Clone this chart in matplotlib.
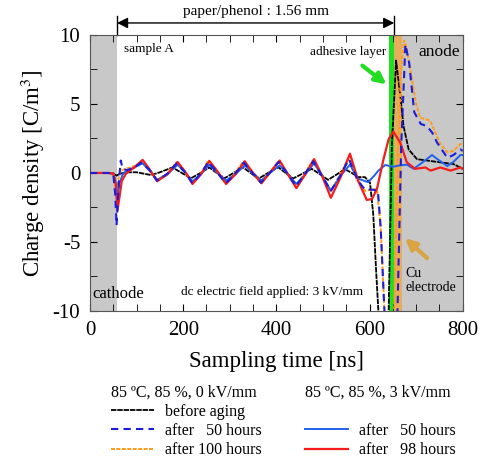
import matplotlib
matplotlib.use('Agg')
import matplotlib.pyplot as plt
from matplotlib.lines import Line2D
from matplotlib.ticker import MultipleLocator
import numpy as np

plt.rcParams['font.family'] = 'serif'
plt.rcParams['font.serif'] = ['Liberation Serif', 'DejaVu Serif']
plt.rcParams['mathtext.fontset'] = 'stix'
plt.rcParams['axes.unicode_minus'] = False

# regions along the time axis [ns]
cathode_end = 58
adhesive = (642, 653)
cu_electrode = (653, 670)
anode_start = 670

# 85 C, 85 %, 0 kV/mm : before aging
black_t = [0, 40, 52, 57, 64, 80, 100, 131, 150, 177, 197, 217, 237, 256, 272, 289, 308, 328, 345, 361,
           382, 404, 420, 436, 456, 476, 494, 511, 530, 547, 562, 575, 590, 601, 608, 614, 619, 625, 641,
           648, 657, 666, 673, 684, 702, 752, 780, 800]
black_q = [0, 0, -0.05, -0.2, -0.05, 0.05, 0.05, -0.15, 0.05, 0.4, 0.0, -0.38, 0.0, 0.4, 0.0, -0.38, 0.0,
           0.41, 0.0, -0.43, 0.0, 0.41, 0.0, -0.4, -0.05, 0.3, -0.1, -0.5, -0.1, 0.28, 0.0, -0.3, -0.3,
           -0.7, -3.0, -7.0, -10.0, -12.0, -10.0, 2.0, 8.15, 5.6, 3.4, 1.7, 1.0, 0.77, 0.65, 0.3]

# 85 C, 85 %, 0 kV/mm : after 50 hours
dblue_t = [0, 40, 50, 54, 57, 61, 66, 70, 80, 95, 110, 127, 144, 166, 186, 204, 220, 238, 254, 273, 291,
           311, 330, 349, 367, 387, 405, 425, 442, 461, 479, 498, 517, 537, 556, 574, 590, 605, 618, 624,
           632, 640, 655, 660, 668, 677, 685, 696, 710, 723, 735, 745, 757, 767, 780, 795, 800]
dblue_q = [0, 0, -0.1, -1.5, -3.8, -1.0, 0.9, 0.3, 0.2, 0.4, 0.75, 0.25, -0.55, -0.05, 0.7, 0.05, -0.75,
           -0.05, 0.8, 0.05, -0.75, -0.1, 0.75, 0.0, -0.7, 0.05, 0.8, -0.1, -0.95, -0.1, 0.85, -0.2,
           -1.3, -0.2, 1.0, -0.5, -1.2, -1.2, -1.3, -4.0, -10.0, -12.0, -12.0, -10.0, 2.0, 9.3, 8.0,
           4.4, 3.55, 3.4, 2.9, 2.2, 1.6, 1.1, 1.3, 1.7, 1.6]

# 85 C, 85 %, 0 kV/mm : after 100 hours
orange_t = [0, 40, 50, 54, 57, 61, 66, 77, 95, 110, 127, 144, 166, 185, 204, 220, 238, 253, 272, 290,
            310, 328, 348, 366, 386, 404, 424, 441, 460, 478, 498, 516, 536, 555, 573, 590, 605, 616,
            624, 632, 636, 652, 660, 667, 674, 680, 690, 700, 709, 730, 752, 767, 780, 795, 800]
orange_q = [0, 0, -0.05, -0.6, -1.4, -0.4, 0.17, 0.3, 0.5, 0.8, 0.3, -0.5, -0.05, 0.75, 0.05, -0.7,
            -0.05, 0.85, 0.05, -0.7, -0.1, 0.8, 0.0, -0.7, 0.05, 0.85, -0.1, -0.95, -0.1, 0.9, -0.2,
            -1.3, -0.2, 1.1, -0.5, -1.3, -1.2, -1.15, -4.0, -10.0, -12.0, -11.0, 0.0, 7.0, 9.6, 9.0,
            7.0, 5.0, 4.0, 3.8, 2.1, 1.5, 1.6, 2.1, 2.1]

# 85 C, 85 %, 3 kV/mm : after 50 hours
blue_t = [0, 40, 50, 55, 59, 63, 70, 80, 95, 113, 127, 144, 166, 188, 204, 220, 238, 256, 274, 292,
          312, 332, 350, 368, 388, 407, 425, 443, 462, 481, 498, 517, 538, 558, 575, 597, 610, 619,
          634, 650, 665, 680, 695, 715, 734, 750, 767, 780, 795, 800]
blue_q = [0, 0, -0.05, -0.6, -1.8, -0.8, -0.1, 0.2, 0.4, 0.7, 0.2, -0.5, -0.1, 0.6, 0.05, -0.6, -0.1,
          0.6, 0.0, -0.55, -0.1, 0.55, 0.0, -0.55, 0.05, 0.55, -0.1, -0.8, -0.1, 0.7, -0.2, -1.3,
          -0.2, 0.6, -0.4, -0.67, -0.2, 0.17, 0.58, 0.45, 0.55, 0.6, 0.3, 0.8, 1.3, 0.9, 0.5, 0.8,
          1.3, 1.3]

# 85 C, 85 %, 3 kV/mm : after 98 hours
red_t = [0, 20, 40, 50, 55, 59, 63, 68, 77, 95, 113, 127, 144, 166, 188, 204, 220, 238, 256, 274, 292,
         312, 332, 350, 368, 388, 407, 425, 443, 462, 481, 498, 517, 538, 558, 576, 594, 605, 616, 630,
         641, 651, 666, 680, 698, 720, 731, 752, 774, 795, 800]
red_q = [0, 0, 0, -0.05, -0.8, -2.7, -1.8, -0.6, -0.05, 0.4, 0.95, 0.3, -0.6, -0.1, 0.8, 0.1, -0.8,
         -0.1, 0.88, 0.1, -0.8, -0.1, 0.85, 0.0, -0.75, 0.1, 0.9, -0.1, -1.1, -0.1, 1.0, -0.2, -1.8,
         -0.3, 1.4, -0.6, -1.95, -1.9, -1.15, 1.0, 2.45, 3.0, 2.2, 0.77, 0.3, 0.4, 0.17, 0.4, 0.17,
         0.4, 0.3]

fig = plt.figure(figsize=(4.84, 4.57), dpi=100)
ax = fig.add_axes([0.186, 0.3195, 0.770, 0.604])

gray = '#c8c8c8'
ax.axvspan(0, cathode_end, color=gray, lw=0, zorder=0)
ax.axvspan(anode_start, 800, color=gray, lw=0, zorder=0)
ax.axvspan(*adhesive, color='#1ee01e', lw=0, zorder=0)
ax.axvspan(*cu_electrode, color='#e6ad5c', lw=0, zorder=0)

l_black, = ax.plot(black_t, black_q, c='black', lw=1.3, ls=(0, (3, 0.5)), zorder=3)
l_dblue, = ax.plot(dblue_t, dblue_q, c='#1c1cd9', lw=1.5, ls=(0, (3.5, 2.5)), zorder=4)
l_orange, = ax.plot(orange_t, orange_q, c='#ff9a1a', lw=1.4, ls=(0, (2, 0.8)), zorder=3)
l_blue, = ax.plot(blue_t, blue_q, c='#2060ee', lw=1.4, zorder=3)
l_red, = ax.plot(red_t, red_q, c='#f41c1c', lw=1.6, zorder=3)

ax.set_xlim(0, 800)
ax.set_ylim(-10, 10)
ax.xaxis.set_major_locator(MultipleLocator(200))
ax.xaxis.set_minor_locator(MultipleLocator(50))
ax.yaxis.set_major_locator(MultipleLocator(5))
ax.yaxis.set_minor_locator(MultipleLocator(2.5))
ax.tick_params(which='both', direction='in', top=True, right=True, labelsize=15, pad=7)
ax.tick_params(which='both', length=5)
for s in ax.spines.values():
    s.set_color('#555555')
ax.set_xlabel('Sampling time [ns]', fontsize=16.5, labelpad=8)
ax.set_ylabel(r'Charge density [C/m$^3$]', fontsize=16.5, labelpad=4)

# annotations inside the plot
ax.text(73, 9.0, 'sample A', fontsize=9.5, va='center')
ax.text(635, 8.8, 'adhesive layer', fontsize=9.5, va='center', ha='right')
ax.text(705, 8.75, 'anode', fontsize=12.5, va='center')
ax.text(4, -8.75, 'cathode', fontsize=12, va='center')
ax.text(196, -8.6, 'dc electric field applied: 3 kV/mm', fontsize=9.5, va='center')
ax.text(677, -7.8, 'Cu\nelectrode', fontsize=10, va='center', linespacing=1.1)
ax.annotate('', xy=(641, 6.3), xytext=(580, 7.9),
            arrowprops=dict(arrowstyle='-|>', color='#22dd22', lw=3, mutation_scale=16))
ax.annotate('', xy=(672, -4.6), xytext=(728, -6.3),
            arrowprops=dict(arrowstyle='-|>', color='#d9a441', lw=3, mutation_scale=16))

# thickness marker above the axes
ax.annotate('', xy=(cathode_end, 10.87), xytext=(adhesive[1], 10.87), annotation_clip=False,
            arrowprops=dict(arrowstyle='<|-|>', color='black', lw=1.0, mutation_scale=16,
                            shrinkA=0, shrinkB=0))
for xe in (cathode_end, adhesive[1]):
    ax.plot([xe, xe], [10, 11.4], c='black', lw=1.0, clip_on=False)
ax.text(356, 11.25, 'paper/phenol : 1.56 mm', fontsize=11, ha='center', va='bottom')

# legends
leg_kw = dict(loc='upper left', frameon=False, fontsize=11.5, title_fontsize=11.5,
              handlelength=2.7, handletextpad=0.7, labelspacing=0.2, borderpad=0,
              alignment='left')
leg1 = fig.legend([l_black, l_dblue, l_orange],
                  ['before aging', 'after   50 hours', 'after 100 hours'],
                  bbox_to_anchor=(0.2128, 0.176), title='85 ºC, 85 %, 0 kV/mm', **leg_kw)
blank = Line2D([], [], color='none')
leg2 = fig.legend([blank, l_blue, l_red],
                  [' ', 'after   50 hours', 'after   98 hours'],
                  bbox_to_anchor=(0.6136, 0.176), title='85 ºC, 85 %, 3 kV/mm', **leg_kw)

fig.savefig('out.png', dpi=100)
